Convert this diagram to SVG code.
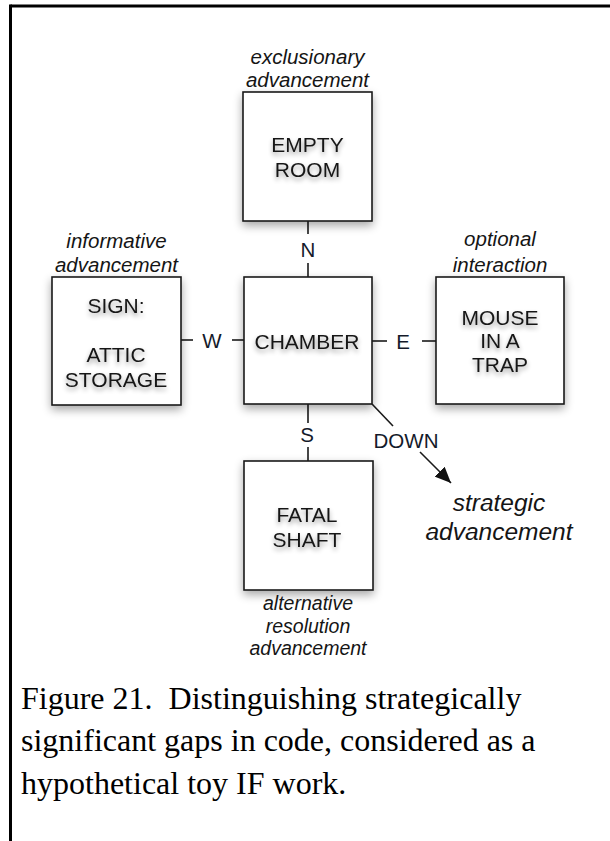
<svg xmlns="http://www.w3.org/2000/svg" width="610" height="841" viewBox="0 0 610 841">
<defs>
  <filter id="boxShadow" x="-20%" y="-20%" width="140%" height="145%">
    <feGaussianBlur in="SourceAlpha" stdDeviation="5"/>
    <feOffset dx="0" dy="4" result="b"/>
    <feComponentTransfer><feFuncA type="linear" slope="0.35"/></feComponentTransfer>
    <feMerge><feMergeNode/><feMergeNode in="SourceGraphic"/></feMerge>
  </filter>
  <filter id="textShadow" x="-20%" y="-40%" width="140%" height="200%">
    <feGaussianBlur in="SourceAlpha" stdDeviation="2.5"/>
    <feOffset dx="0" dy="3" result="b"/>
    <feComponentTransfer><feFuncA type="linear" slope="0.4"/></feComponentTransfer>
    <feMerge><feMergeNode/><feMergeNode in="SourceGraphic"/></feMerge>
  </filter>
  <marker id="arrowHead" viewBox="0 0 16 14" refX="16" refY="7" markerWidth="16" markerHeight="14" markerUnits="userSpaceOnUse" orient="auto">
    <path d="M0,0 L16,7 L0,14 z" fill="#111"/>
  </marker>
</defs>
<style>
  .box { fill: #fff; stroke: #1a1a1a; stroke-width: 1.6; }
  .lbl { font-family: "Liberation Sans", Arial, sans-serif; font-size: 21px; fill: #151515; text-anchor: middle; }
  .ital { font-family: "Liberation Sans", Arial, sans-serif; font-style: italic; font-size: 20.5px; fill: #151515; text-anchor: middle; }
  .dir { font-family: "Liberation Sans", Arial, sans-serif; font-size: 20.5px; fill: #141a2a; text-anchor: middle; }
  .conn { stroke: #1a1a1a; stroke-width: 1.6; fill: none; }
  .frame { stroke: #000; stroke-width: 3; fill: none; }
  .cap { font-family: "Liberation Serif", "Times New Roman", serif; font-size: 32px; fill: #000; }
</style>

<g id="frame">
  <line class="frame" x1="10.5" y1="6" x2="610" y2="6"/>
  <line class="frame" x1="10.5" y1="4.5" x2="10.5" y2="841"/>
</g>

<g id="connectors">
  <line class="conn" x1="308" y1="221" x2="308" y2="234"/>
  <line class="conn" x1="308" y1="263" x2="308" y2="277"/>
  <text class="dir" x="308" y="257">N</text>
  <line class="conn" x1="181" y1="340" x2="193" y2="340"/>
  <line class="conn" x1="232" y1="340" x2="244" y2="340"/>
  <text class="dir" x="212" y="348">W</text>
  <line class="conn" x1="372" y1="341" x2="387" y2="341"/>
  <line class="conn" x1="422" y1="341" x2="436" y2="341"/>
  <text class="dir" x="403" y="349">E</text>
  <line class="conn" x1="308" y1="404" x2="308" y2="423"/>
  <line class="conn" x1="308" y1="447" x2="308" y2="461"/>
  <text class="dir" x="307" y="442">S</text>
  <line class="conn" x1="372" y1="404" x2="393" y2="426"/>
  <text class="dir" x="406" y="448">DOWN</text>
  <line class="conn" x1="420" y1="452" x2="451" y2="483" marker-end="url(#arrowHead)"/>
</g>

<g id="empty-room">
  <rect class="box" x="243" y="92" width="129" height="129" filter="url(#boxShadow)"/>
  <g filter="url(#textShadow)">
    <text class="lbl" x="307.5" y="152">EMPTY</text>
    <text class="lbl" x="307.5" y="177">ROOM</text>
  </g>
  <text class="ital" x="307.5" y="64">exclusionary</text>
  <text class="ital" x="307.5" y="87">advancement</text>
</g>

<g id="sign">
  <rect class="box" x="52" y="277" width="129" height="128" filter="url(#boxShadow)"/>
  <g filter="url(#textShadow)">
    <text class="lbl" x="116" y="313">SIGN:</text>
    <text class="lbl" x="116" y="362">ATTIC</text>
    <text class="lbl" x="116" y="387">STORAGE</text>
  </g>
  <text class="ital" x="116.5" y="248">informative</text>
  <text class="ital" x="116.5" y="272">advancement</text>
</g>

<g id="chamber">
  <rect class="box" x="244" y="277" width="128" height="127" filter="url(#boxShadow)"/>
  <g filter="url(#textShadow)">
    <text class="lbl" x="307" y="349">CHAMBER</text>
  </g>
</g>

<g id="mouse">
  <rect class="box" x="436" y="277" width="128" height="127" filter="url(#boxShadow)"/>
  <g filter="url(#textShadow)">
    <text class="lbl" x="500" y="325">MOUSE</text>
    <text class="lbl" x="500" y="348">IN A</text>
    <text class="lbl" x="500" y="372">TRAP</text>
  </g>
  <text class="ital" x="500" y="246">optional</text>
  <text class="ital" x="500" y="272">interaction</text>
</g>

<g id="fatal-shaft">
  <rect class="box" x="244" y="461" width="129" height="129" filter="url(#boxShadow)"/>
  <g filter="url(#textShadow)">
    <text class="lbl" x="307" y="522">FATAL</text>
    <text class="lbl" x="307" y="547">SHAFT</text>
  </g>
  <text class="ital" x="308" y="610" style="font-size:19.5px">alternative</text>
  <text class="ital" x="308" y="633" style="font-size:19.5px">resolution</text>
  <text class="ital" x="308" y="655" style="font-size:19.5px">advancement</text>
</g>

<g id="strategic">
  <text class="ital" x="499" y="511" style="font-size:24.5px">strategic</text>
  <text class="ital" x="499" y="540" style="font-size:24.5px">advancement</text>
</g>

<g id="caption">
  <text class="cap" x="21" y="709" xml:space="preserve">Figure 21.  Distinguishing strategically</text>
  <text class="cap" x="21" y="751">significant gaps in code, considered as a</text>
  <text class="cap" x="21" y="794">hypothetical toy IF work.</text>
</g>
</svg>
